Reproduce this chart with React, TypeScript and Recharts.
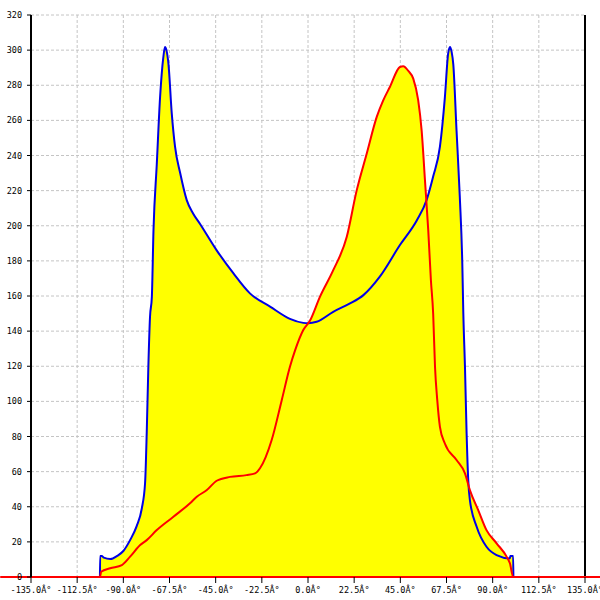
import { Area, CartesianGrid, ComposedChart, Line, ReferenceLine, XAxis, YAxis } from "recharts";

// blue curve: angle (deg) -> value
const BLUE_DEG = [
  -101.4, -101.3, -100.5, -99.5, -96.4, -93, -90, -86.7, -83.5, -81, -79.4, -78.6, -77.8, -77,
  -76.1, -75.3, -73.7, -72.1, -70.5, -69.7, -69, -68, -66.4, -64.8, -62.3, -59.1, -56, -52.6, -44.5,
  -36.4, -28.3, -18.5, -8.8, -2.3, 0, 4.2, 12.3, 20, 27, 35, 44.8, 53, 57.8, 61, 64.3, 66.7, 68.3,
  69.2, 70, 70.8, 72.4, 74, 75.2, 75.7, 76.5, 77.3, 78.1, 78.9, 82.2, 87, 91.9, 98.4, 98.6, 100, 100.1,
];
const BLUE_VAL = [
  0, 12, 12, 11, 10.2, 12, 14.8, 21, 29, 39, 53.5, 82, 120, 148,
  159.5, 197.5, 235, 273, 296, 301.8, 300, 292, 264, 245, 230, 214.6, 207, 201, 186,
  173, 161.5, 154, 147, 144.7, 144.5, 145.3, 151, 155.5, 160.5, 171, 189, 203, 214.6, 228, 245, 273, 298,
  301.8, 299, 292, 254, 216, 178.5, 150, 119.7, 81.8, 55, 43.8, 28.6, 17.2, 12.5, 10.6, 12, 12, 0,
];

// red curve: angle (deg) -> value
const RED_DEG = [
  -135, -101.4, -100.8, -96.4, -90.7, -86.7, -81.8, -78.6, -73.7, -65.6, -57.5, -54.2, -49.3, -44.5,
  -38, -30, -25.8, -23.4, -17.7, -12.8, -8.8, -6.3, -2.3, 1, 5.8, 12.3, 18.9, 23.7, 28.6, 33.5, 36.5,
  39.9, 44.8, 46.4, 49, 51.3, 53.7, 55.4, 57, 58.6, 59.9, 61, 61.9, 63, 64.3, 66.7, 72.4, 76.5, 78.9,
  83, 87, 91.9, 96.8, 98.4, 100, 135,
];
const RED_VAL = [
  0, 0, 3, 5, 6.8, 11.6, 18.2, 21, 26.7, 34.3, 42, 45.7, 49.5, 54.8,
  57, 58, 59, 61.9, 78, 100.7, 119.7, 129, 140.6, 146, 159.5, 174.7, 193.7, 220, 241, 262, 271,
  279, 290.4, 290.8, 288, 283.8, 271.5, 254, 226, 197.5, 169, 150, 119.7, 100.7, 85.5, 76, 66.6, 59, 49.5,
  38, 26.7, 19.2, 11.6, 7.8, 0, 0,
];

const X_TICKS = [-135, -112.5, -90, -67.5, -45, -22.5, 0, 22.5, 45, 67.5, 90, 112.5, 135];
const Y_TICKS = [0, 20, 40, 60, 80, 100, 120, 140, 160, 180, 200, 220, 240, 260, 280, 300, 320];

const toRows = (deg: number[], val: number[]) => deg.map((d, i) => ({ deg: d, value: val[i] }));

const blueData = toRows(BLUE_DEG, BLUE_VAL);
const redData = toRows(RED_DEG, RED_VAL);

const tickStyle = { fontFamily: "DejaVu Sans Mono", fontSize: 8.5, fill: "#000" };

export default function App() {
  return (
    <div style={{ position: "absolute", left: 0, top: 0, width: 600, height: 600, background: "#fff", overflow: "hidden" }}>
      <ComposedChart width={600} height={600} margin={{ top: 15, right: 15, bottom: 0, left: 1 }}>
        <CartesianGrid stroke="#c4c4c4" strokeDasharray="3 2" />
        <XAxis
          dataKey="deg"
          type="number"
          domain={[-135, 135]}
          ticks={X_TICKS}
          interval={0}
          height={23}
          tickSize={6}
          tickMargin={4}
          axisLine={false}
          tickLine={{ stroke: "#000" }}
          tick={tickStyle}
          tickFormatter={(v: number) => `${v.toFixed(1)}Â°`}
          allowDuplicatedCategory={false}
        />
        <YAxis
          type="number"
          domain={[0, 320]}
          ticks={Y_TICKS}
          interval={0}
          width={30}
          tickSize={4}
          tickMargin={5}
          axisLine={{ stroke: "#000", strokeWidth: 2 }}
          tickLine={{ stroke: "#000" }}
          tick={tickStyle}
        />
        <Area data={blueData} dataKey="value" type="monotoneX" fill="#ffff00" fillOpacity={1} stroke="none" isAnimationActive={false} />
        <Area data={redData} dataKey="value" type="monotoneX" fill="#ffff00" fillOpacity={1} stroke="none" isAnimationActive={false} />
        <ReferenceLine x={135} stroke="#000" strokeWidth={2} />
        <Line data={blueData} dataKey="value" type="monotoneX" stroke="#0000e6" strokeWidth={2} dot={false} isAnimationActive={false} />
        <Line data={redData} dataKey="value" type="monotoneX" stroke="#ff0000" strokeWidth={2} dot={false} isAnimationActive={false} />
        <ReferenceLine
          segment={[{ x: -150, y: 0 }, { x: 143, y: 0 }]}
          ifOverflow="visible"
          stroke="#ff0000"
          strokeWidth={2}
        />
      </ComposedChart>
    </div>
  );
}
